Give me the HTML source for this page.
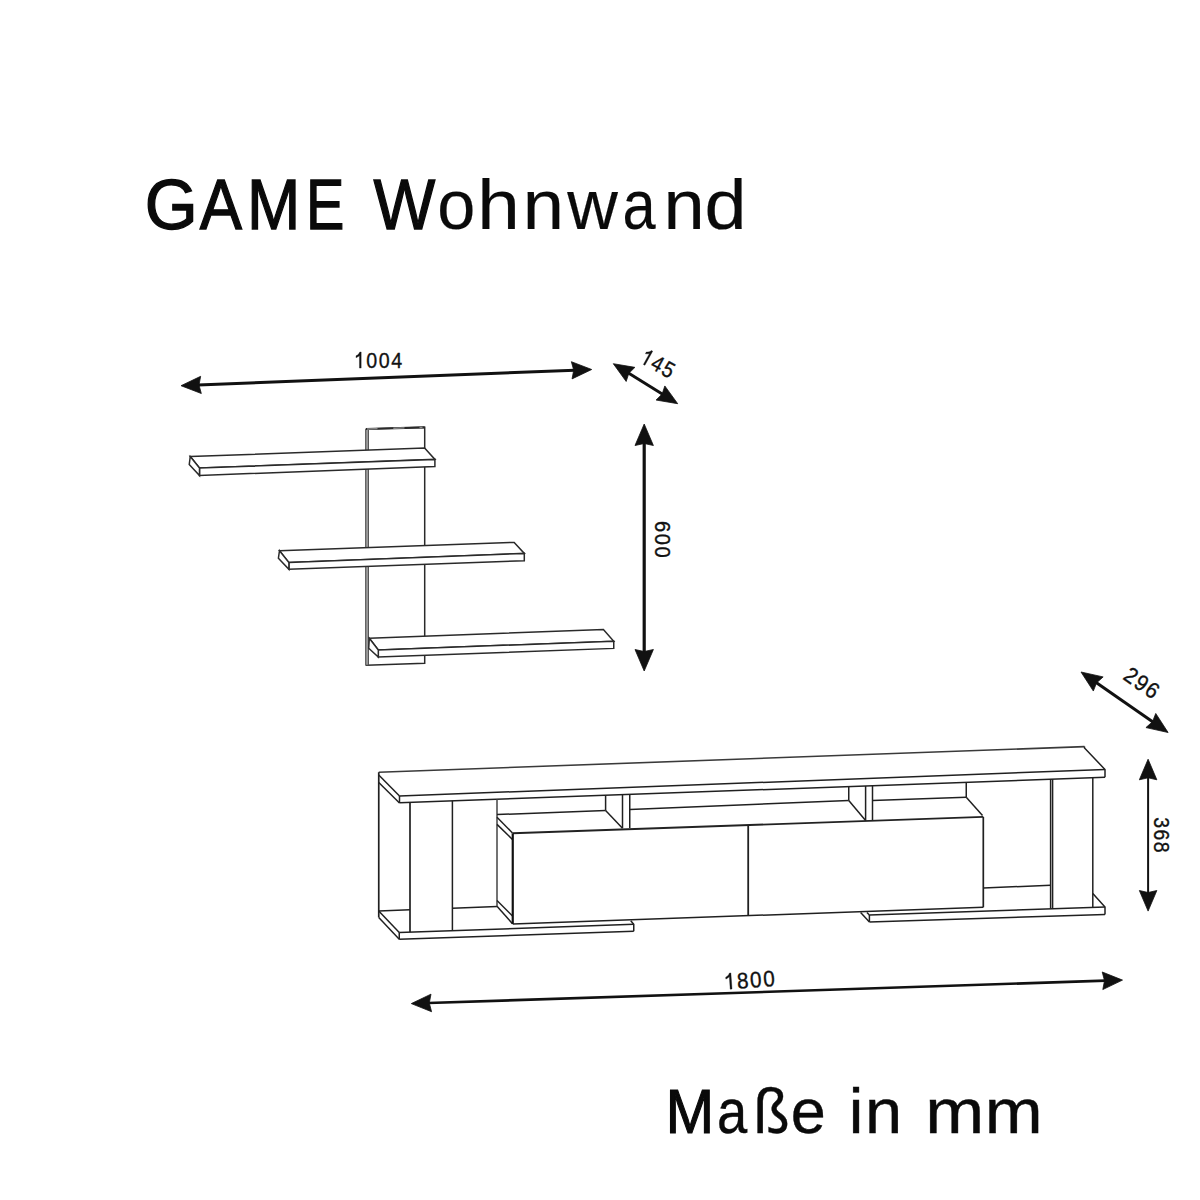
<!DOCTYPE html>
<html><head><meta charset="utf-8"><title>GAME Wohnwand</title>
<style>
html,body{margin:0;padding:0;background:#fff;}
body{width:1200px;height:1200px;overflow:hidden;position:relative;font-family:"Liberation Sans",sans-serif;}
svg{position:absolute;left:0;top:0;}
</style></head><body>
<svg width="1200" height="1200" viewBox="0 0 1200 1200">
<rect width="1200" height="1200" fill="#fff"/>
<g stroke="#2a2a2a" stroke-width="1.5" stroke-linejoin="miter" fill="#fff">
<polygon points="366.50,429.00 424.70,427.30 424.70,663.30 366.50,665.30" fill="#fff" stroke-width="1.5"/>
<rect x="365.7" y="429.3" width="2.8" height="235.8" fill="#9a9a9a" stroke="#4a4a4a" stroke-width="0.9"/>
<line x1="366" y1="429" x2="424.7" y2="427.3" stroke-width="2.2" stroke="#2a2a2a"/>
<line x1="367" y1="428.97103918228277" x2="377.5" y2="428.66695059625215" stroke-width="1.4" stroke="#8c8c8c"/>
<line x1="393.3" y1="428.20936967632025" x2="404.5" y2="427.88500851788757" stroke-width="1.4" stroke="#8c8c8c"/>
<line x1="419.5" y1="427.45059625212946" x2="422.5" y2="427.36371379897787" stroke-width="1.4" stroke="#8c8c8c"/>
<polygon points="190.25,456.50 424.60,448.10 434.90,459.40 199.50,468.00" fill="#fff"/>
<polygon points="199.50,468.00 434.90,459.40 434.90,466.50 199.50,475.50" fill="#fff"/>
<polygon points="190.25,456.50 199.50,468.00 199.50,475.50 189.25,464.50" fill="#fff"/>
<polygon points="279.50,550.70 514.20,542.40 524.30,553.40 288.90,562.60" fill="#fff"/>
<polygon points="288.90,562.60 524.30,553.40 524.30,560.75 288.90,569.30" fill="#fff"/>
<polygon points="279.50,550.70 288.90,562.60 288.90,569.30 278.40,558.20" fill="#fff"/>
<polygon points="369.30,638.30 603.40,629.40 613.75,641.25 378.30,650.00" fill="#fff"/>
<polygon points="378.30,650.00 613.75,641.25 613.75,648.40 378.30,657.00" fill="#fff"/>
<polygon points="369.30,638.30 378.30,650.00 378.30,657.00 368.70,648.30" fill="#fff"/>
</g>
<g stroke="#202020" stroke-width="1.5" fill="none" stroke-linecap="butt">
<line x1="378.75" y1="772.25" x2="1084.5" y2="746.6" stroke-width="1.6" stroke="#3a3a3a"/>
<polyline points="378.75,775.00 399.50,796.00" fill="none"/>
<polyline points="378.75,782.50 399.50,803.00" fill="none"/>
<line x1="399.5" y1="796" x2="399.5" y2="803"/>
<line x1="399.5" y1="796" x2="1105" y2="769.5"/>
<line x1="399.5" y1="802.75" x2="1105" y2="777.25"/>
<polyline points="1084.50,746.60 1084.50,748.00 1105.00,769.50 1105.00,777.25" fill="none"/>
<line x1="378.75" y1="772.25" x2="378.75" y2="917.5" stroke-width="1.7"/>
<line x1="378.75" y1="911" x2="410" y2="909.8"/>
<line x1="452.4" y1="908.2" x2="497" y2="906.5"/>
<line x1="983.3" y1="887.9" x2="1050.6" y2="885.3"/>
<line x1="410" y1="802.4" x2="410" y2="932.1" stroke-width="1.7"/>
<line x1="452.4" y1="800.8" x2="452.4" y2="930.6"/>
<line x1="497" y1="799.3" x2="497" y2="906.3" stroke="#444"/>
<line x1="378.75" y1="911" x2="399.25" y2="932.5"/>
<line x1="378.75" y1="917.5" x2="399.25" y2="939.25"/>
<line x1="399.25" y1="932.5" x2="399.25" y2="939.25"/>
<line x1="399.25" y1="932.5" x2="633.75" y2="924.3"/>
<line x1="399.25" y1="939.25" x2="633.75" y2="931.2"/>
<polyline points="630.75,920.80 633.75,924.30 633.75,931.20" fill="none"/>
<line x1="860.6" y1="912.6" x2="869.4" y2="921.9"/>
<line x1="866.9" y1="912.4" x2="869.4" y2="915"/>
<line x1="869.4" y1="915" x2="869.4" y2="921.9"/>
<line x1="869.4" y1="915" x2="1105" y2="907"/>
<line x1="869.4" y1="921.9" x2="1105" y2="914.4"/>
<polyline points="1092.80,893.40 1105.00,907.00 1105.00,914.40" fill="none"/>
<line x1="1092.8" y1="777.5" x2="1092.8" y2="907.4"/>
<line x1="1050.6" y1="779.3" x2="1050.6" y2="908.6"/>
<line x1="1052.6" y1="779.2" x2="1052.6" y2="908.6"/>
<line x1="497" y1="817.3" x2="512.5" y2="833"/>
<line x1="497" y1="824.4" x2="512.5" y2="839.5"/>
<line x1="497" y1="900.5" x2="512.5" y2="916"/>
<line x1="497" y1="906.3" x2="512.5" y2="923.8"/>
<line x1="497" y1="814.6" x2="605.6" y2="810.6"/>
<line x1="605.6" y1="795.4" x2="605.6" y2="810.6"/>
<line x1="605.6" y1="810.6" x2="622.5" y2="828.2"/>
<line x1="622.5" y1="794.6" x2="622.5" y2="828.2"/>
<line x1="629.75" y1="794.4" x2="629.75" y2="828.0"/>
<line x1="629.75" y1="809.4" x2="848.75" y2="800.6"/>
<line x1="848.75" y1="786.5" x2="848.75" y2="800.6"/>
<line x1="848.75" y1="800.6" x2="865.6" y2="820.5"/>
<line x1="865.6" y1="786.0" x2="865.6" y2="821.0"/>
<line x1="872.5" y1="785.8" x2="872.5" y2="820.8"/>
<line x1="872.5" y1="800.6" x2="966.25" y2="797.25"/>
<line x1="966.25" y1="782.5" x2="966.25" y2="797.25"/>
<line x1="966.25" y1="797.25" x2="982.5" y2="815.5"/>
<line x1="512.75" y1="833.3" x2="983.3" y2="816.9" stroke-width="1.9" stroke="#222"/>
<line x1="512.75" y1="833.3" x2="512.75" y2="924" stroke-width="2.2" stroke="#111"/>
<line x1="512.75" y1="924" x2="983.3" y2="907.3"/>
<line x1="748.2" y1="825.0" x2="748.2" y2="915.7" stroke-width="1.8"/>
<line x1="983.3" y1="816.9" x2="983.3" y2="907.3" stroke-width="1.7"/>
</g>
<line x1="197.99" y1="385.03" x2="574.71" y2="370.17" stroke="#111" stroke-width="3"/>
<polygon points="181.00,385.70 200.65,376.32 198.99,384.99 201.32,393.51" fill="#111" stroke="#111" stroke-width="0.8" stroke-linejoin="miter"/>
<polygon points="591.70,369.50 572.05,378.88 573.71,370.21 571.38,361.69" fill="#111" stroke="#111" stroke-width="0.8" stroke-linejoin="miter"/>
<line x1="628.00" y1="372.83" x2="663.00" y2="394.57" stroke="#111" stroke-width="3"/>
<polygon points="613.30,363.70 634.92,367.36 628.85,373.36 626.17,381.46" fill="#111" stroke="#111" stroke-width="0.8" stroke-linejoin="miter"/>
<polygon points="677.70,403.70 656.08,400.04 662.15,394.04 664.83,385.94" fill="#111" stroke="#111" stroke-width="0.8" stroke-linejoin="miter"/>
<line x1="644.20" y1="442.50" x2="644.20" y2="652.50" stroke="#111" stroke-width="3.2"/>
<polygon points="644.20,424.00 653.40,445.50 644.20,443.50 635.00,445.50" fill="#111" stroke="#111" stroke-width="0.8" stroke-linejoin="miter"/>
<polygon points="644.20,671.00 635.00,649.50 644.20,651.50 653.40,649.50" fill="#111" stroke="#111" stroke-width="0.8" stroke-linejoin="miter"/>
<line x1="1095.78" y1="682.27" x2="1153.32" y2="722.23" stroke="#111" stroke-width="3"/>
<polygon points="1081.00,672.00 1103.15,676.92 1096.60,682.84 1093.34,691.04" fill="#111" stroke="#111" stroke-width="0.8" stroke-linejoin="miter"/>
<polygon points="1168.10,732.50 1145.95,727.58 1152.50,721.66 1155.76,713.46" fill="#111" stroke="#111" stroke-width="0.8" stroke-linejoin="miter"/>
<line x1="1148.10" y1="776.80" x2="1148.10" y2="893.50" stroke="#111" stroke-width="2"/>
<polygon points="1148.10,759.20 1156.85,779.80 1148.10,777.80 1139.35,779.80" fill="#111" stroke="#111" stroke-width="0.8" stroke-linejoin="miter"/>
<polygon points="1148.10,911.10 1139.35,890.50 1148.10,892.50 1156.85,890.50" fill="#111" stroke="#111" stroke-width="0.8" stroke-linejoin="miter"/>
<line x1="428.29" y1="1003.04" x2="1105.51" y2="980.66" stroke="#111" stroke-width="2.6"/>
<polygon points="411.30,1003.60 431.00,994.14 429.29,1003.01 431.58,1011.73" fill="#111" stroke="#111" stroke-width="0.8" stroke-linejoin="miter"/>
<polygon points="1122.50,980.10 1102.80,989.56 1104.51,980.69 1102.22,971.97" fill="#111" stroke="#111" stroke-width="0.8" stroke-linejoin="miter"/>
<g transform="translate(378.75 360.25) rotate(0) translate(-25.53 7.85) scale(0.9910 1)" font-size="22.5" font-family="Liberation Sans, sans-serif" fill="#111" stroke="#111" stroke-width="0.35"><path d="M8.38,0.00 L6.41,0.00 L6.41,-12.60 L5.69,-11.92 L4.53,-11.24 L3.45,-10.73 L2.45,-10.36 L2.45,-12.27 L4.12,-13.05 L5.37,-14.03 L6.23,-15.06 L6.78,-16.11 L8.38,-16.11Z" transform="translate(5.42 0) scale(0.88 1) translate(-5.42 0)"/><text x="12.51" y="0" transform="translate(18.77 0) scale(0.88 1) translate(-18.77 0)">0</text><text x="25.03" y="0" transform="translate(31.28 0) scale(0.88 1) translate(-31.28 0)">0</text><text x="37.54" y="0" transform="translate(43.73 0) scale(0.88 1) translate(-43.73 0)">4</text></g>
<g transform="translate(658.4 363.8) rotate(29) translate(-18.99 7.85) scale(0.9800 1)" font-size="22.5" font-family="Liberation Sans, sans-serif" fill="#111" stroke="#111" stroke-width="0.35"><path d="M8.38,0.00 L6.41,0.00 L6.41,-12.60 L5.69,-11.92 L4.53,-11.24 L3.45,-10.73 L2.45,-10.36 L2.45,-12.27 L4.12,-13.05 L5.37,-14.03 L6.23,-15.06 L6.78,-16.11 L8.38,-16.11Z" transform="translate(5.42 0) scale(0.88 1) translate(-5.42 0)"/><text x="12.51" y="0" transform="translate(18.70 0) scale(0.88 1) translate(-18.70 0)">4</text><text x="25.03" y="0" transform="translate(31.26 0) scale(0.88 1) translate(-31.26 0)">5</text></g>
<g transform="translate(663 539.4) rotate(90) translate(-19.17 7.85) scale(1.0148 1)" font-size="22.5" font-family="Liberation Sans, sans-serif" fill="#111" stroke="#111" stroke-width="0.35"><text x="0.00" y="0" transform="translate(6.33 0) scale(0.88 1) translate(-6.33 0)">6</text><text x="12.51" y="0" transform="translate(18.77 0) scale(0.88 1) translate(-18.77 0)">0</text><text x="25.03" y="0" transform="translate(31.28 0) scale(0.88 1) translate(-31.28 0)">0</text></g>
<g transform="translate(1141.8 682.8) rotate(35) translate(-19.59 7.85) scale(1.0400 1)" font-size="22.5" font-family="Liberation Sans, sans-serif" fill="#111" stroke="#111" stroke-width="0.35"><text x="0.00" y="0" transform="translate(6.26 0) scale(0.88 1) translate(-6.26 0)">2</text><text x="12.51" y="0" transform="translate(18.77 0) scale(0.88 1) translate(-18.77 0)">9</text><text x="25.03" y="0" transform="translate(31.36 0) scale(0.88 1) translate(-31.36 0)">6</text></g>
<g transform="translate(1162 834.85) rotate(90) translate(-18.42 7.85) scale(0.9843 1)" font-size="22.5" font-family="Liberation Sans, sans-serif" fill="#111" stroke="#111" stroke-width="0.35"><text x="0.00" y="0" transform="translate(6.19 0) scale(0.88 1) translate(-6.19 0)">3</text><text x="12.51" y="0" transform="translate(18.85 0) scale(0.88 1) translate(-18.85 0)">6</text><text x="25.03" y="0" transform="translate(31.28 0) scale(0.88 1) translate(-31.28 0)">8</text></g>
<g transform="translate(749.9 979.9) rotate(-4) translate(-26.89 7.85) scale(1.0476 1)" font-size="22.5" font-family="Liberation Sans, sans-serif" fill="#111" stroke="#111" stroke-width="0.35"><path d="M8.38,0.00 L6.41,0.00 L6.41,-12.60 L5.69,-11.92 L4.53,-11.24 L3.45,-10.73 L2.45,-10.36 L2.45,-12.27 L4.12,-13.05 L5.37,-14.03 L6.23,-15.06 L6.78,-16.11 L8.38,-16.11Z" transform="translate(5.42 0) scale(0.88 1) translate(-5.42 0)"/><text x="12.51" y="0" transform="translate(18.77 0) scale(0.88 1) translate(-18.77 0)">8</text><text x="25.03" y="0" transform="translate(31.28 0) scale(0.88 1) translate(-31.28 0)">0</text><text x="37.54" y="0" transform="translate(43.80 0) scale(0.88 1) translate(-43.80 0)">0</text></g>
<g font-family="Liberation Sans, sans-serif" fill="#0a0a0a"><text transform="translate(144.74 228.65) scale(0.9568 1)" font-size="71.22" stroke="#0a0a0a" stroke-width="1.300">G</text><text transform="translate(199.72 228.65) scale(0.8895 1)" font-size="71.22" stroke="#0a0a0a" stroke-width="1.300">A</text><text transform="translate(247.10 228.65) scale(0.8983 1)" font-size="71.22" stroke="#0a0a0a" stroke-width="1.300">M</text><text transform="translate(305.93 228.65) scale(0.8083 1)" font-size="71.22" stroke="#0a0a0a" stroke-width="1.300">E</text><text transform="translate(373.62 228.65) scale(0.9190 1)" font-size="71.22" stroke="#0a0a0a" stroke-width="1.300">W</text><text transform="translate(437.23 229.20) scale(0.9608 1)" font-size="71.22" stroke="#0a0a0a" stroke-width="0.200">o</text><text transform="translate(477.32 229.20) scale(1.0747 1)" font-size="71.22" stroke="#0a0a0a" stroke-width="0.200">h</text><text transform="translate(522.71 229.20) scale(1.0407 1)" font-size="71.22" stroke="#0a0a0a" stroke-width="0.200">n</text><text transform="translate(567.17 229.20) scale(0.9838 1)" font-size="71.22" stroke="#0a0a0a" stroke-width="0.200">w</text><text transform="translate(622.60 229.20) scale(0.8359 1)" font-size="71.22" stroke="#0a0a0a" stroke-width="0.200">a</text><text transform="translate(663.51 229.20) scale(1.0407 1)" font-size="71.22" stroke="#0a0a0a" stroke-width="0.200">n</text><text transform="translate(704.43 229.20) scale(1.0609 1)" font-size="71.22" stroke="#0a0a0a" stroke-width="0.200">d</text></g>
<g font-family="Liberation Sans, sans-serif" fill="#0a0a0a"><text transform="translate(665.84 1132.70) scale(0.9110 1)" font-size="63.66" stroke="#0a0a0a" stroke-width="1.200">M</text><text transform="translate(717.12 1133.10) scale(0.8526 1)" font-size="63.66" stroke="#0a0a0a" stroke-width="0.400">a</text><text transform="translate(753.62 1133.10) scale(0.9280 1)" font-size="63.66" stroke="#0a0a0a" stroke-width="0.400">ß</text><text transform="translate(790.85 1133.10) scale(0.9893 1)" font-size="63.66" stroke="#0a0a0a" stroke-width="0.400">e</text><text transform="translate(848.78 1133.10) scale(1.0353 1)" font-size="63.66" stroke="#0a0a0a" stroke-width="0.400">i</text><text transform="translate(864.99 1133.10) scale(1.0496 1)" font-size="63.66" stroke="#0a0a0a" stroke-width="0.400">n</text><text transform="translate(925.23 1133.10) scale(1.1114 1)" font-size="63.66" stroke="#0a0a0a" stroke-width="0.400">m</text><text transform="translate(984.81 1133.10) scale(1.0913 1)" font-size="63.66" stroke="#0a0a0a" stroke-width="0.400">m</text></g>
</svg>
</body></html>
